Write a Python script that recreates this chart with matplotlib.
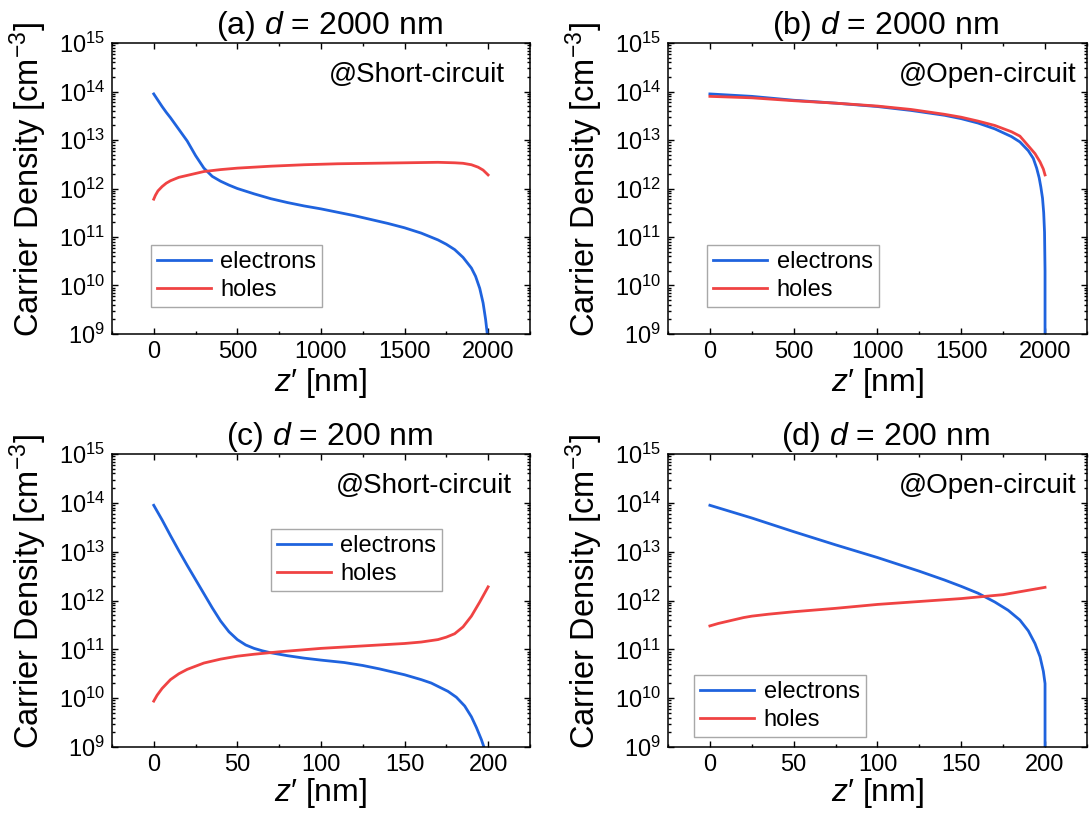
import matplotlib.pyplot as plt
from matplotlib.ticker import LogLocator, MultipleLocator, NullFormatter
import numpy as np

plt.rcParams['font.family'] = ['Liberation Sans', 'DejaVu Sans']
plt.rcParams['mathtext.fontset'] = 'custom'
plt.rcParams['mathtext.rm'] = 'Liberation Sans'
plt.rcParams['mathtext.it'] = 'Liberation Sans:italic'
plt.rcParams['mathtext.bf'] = 'Liberation Sans:bold'

# densities are stored as log10(n / cm^-3)

# (a) d = 2000 nm, short-circuit
z_a_e = [0, 25, 50, 75, 100, 125, 150, 200, 250, 300, 350, 400, 450, 500, 600, 700,
         800, 900, 1000, 1100, 1200, 1300, 1400, 1500, 1600, 1700, 1750, 1800, 1850,
         1900, 1925, 1950, 1970, 1985, 1995, 2000]
ne_a = [13.95, 13.82, 13.69, 13.57, 13.46, 13.34, 13.22, 12.98, 12.68, 12.42, 12.25,
        12.15, 12.07, 12.00, 11.89, 11.79, 11.71, 11.64, 11.58, 11.51, 11.44, 11.36,
        11.28, 11.19, 11.08, 10.94, 10.85, 10.74, 10.58, 10.36, 10.19, 9.94, 9.64,
        9.30, 9.00, 8.00]
z_a_h = [0, 10, 25, 50, 75, 100, 150, 200, 300, 400, 500, 700, 900, 1100, 1300, 1500,
         1700, 1800, 1850, 1900, 1940, 1970, 2000]
nh_a = [11.78, 11.86, 11.95, 12.04, 12.11, 12.16, 12.23, 12.27, 12.35, 12.39, 12.42,
        12.46, 12.49, 12.51, 12.52, 12.53, 12.54, 12.53, 12.52, 12.49, 12.44, 12.38,
        12.28]

# (b) d = 2000 nm, open-circuit
z_b_e = [0, 250, 500, 750, 1000, 1200, 1400, 1500, 1600, 1700, 1800, 1850, 1900,
         1930, 1950, 1965, 1975, 1985, 1992, 1997, 2000, 2000]
ne_b = [13.95, 13.90, 13.82, 13.76, 13.69, 13.61, 13.51, 13.44, 13.35, 13.23, 13.07,
        12.96, 12.78, 12.62, 12.42, 12.22, 12.03, 11.80, 11.50, 11.10, 10.30, 8.00]
z_b_h = [0, 250, 500, 750, 1000, 1200, 1400, 1500, 1600, 1700, 1800, 1850, 1900,
         1940, 1970, 1990, 2000]
nh_b = [13.90, 13.87, 13.81, 13.76, 13.70, 13.63, 13.53, 13.47, 13.39, 13.30, 13.17,
        13.08, 12.88, 12.72, 12.55, 12.40, 12.28]

# (c) d = 200 nm, short-circuit
z_c_e = [0, 5, 10, 15, 20, 25, 30, 35, 40, 45, 50, 55, 60, 65, 70, 80, 90, 100, 114,
         125, 135, 150, 160, 166, 176, 181, 186, 190, 193, 196, 198, 200]
ne_c = [13.95, 13.65, 13.33, 13.02, 12.72, 12.43, 12.14, 11.85, 11.58, 11.36, 11.20,
        11.09, 11.02, 10.97, 10.93, 10.87, 10.82, 10.78, 10.73, 10.67, 10.60, 10.48,
        10.38, 10.31, 10.14, 10.02, 9.84, 9.62, 9.40, 9.15, 8.95, 8.60]
z_c_h = [0, 2, 5, 10, 15, 20, 30, 40, 50, 60, 75, 100, 125, 150, 160, 170, 175, 180,
         185, 190, 195, 200]
nh_c = [9.94, 10.06, 10.20, 10.38, 10.50, 10.59, 10.72, 10.80, 10.86, 10.90, 10.95,
        11.02, 11.07, 11.12, 11.15, 11.20, 11.25, 11.32, 11.46, 11.68, 11.97, 12.28]

# (d) d = 200 nm, open-circuit
z_d_e = [0, 25, 50, 75, 100, 125, 140, 150, 160, 170, 178, 185, 190, 194, 197, 199,
         200, 200]
ne_d = [13.95, 13.69, 13.41, 13.14, 12.88, 12.60, 12.42, 12.29, 12.15, 11.97, 11.80,
        11.60, 11.38, 11.12, 10.85, 10.55, 10.30, 8.00]
z_d_h = [0, 5, 10, 15, 20, 25, 35, 50, 75, 100, 125, 150, 175, 200]
nh_d = [11.48, 11.53, 11.57, 11.61, 11.65, 11.68, 11.72, 11.77, 11.84, 11.92, 11.98,
        12.04, 12.12, 12.27]

titles = ['(a) $d$ = 2000 nm', '(b) $d$ = 2000 nm', '(c) $d$ = 200 nm', '(d) $d$ = 200 nm']
notes = ['@Short-circuit', '@Open-circuit', '@Short-circuit', '@Open-circuit']

blue = '#1f63de'
red = '#f04343'

fig = plt.figure(figsize=(10.89, 8.21), dpi=100)
rects = [[0.1028, 0.5932, 0.3838, 0.3544],
         [0.6134, 0.5932, 0.3847, 0.3544],
         [0.1028, 0.0901, 0.3838, 0.3569],
         [0.6134, 0.0901, 0.3847, 0.3569]]
panels = [(z_a_e, ne_a, z_a_h, nh_a, 2000),
          (z_b_e, ne_b, z_b_h, nh_b, 2000),
          (z_c_e, ne_c, z_c_h, nh_c, 200),
          (z_d_e, ne_d, z_d_h, nh_d, 200)]
leg_pos = [(0.093, 0.093), (0.093, 0.093), (0.38, 0.532), (0.062, 0.034)]
note_x = [0.94, 0.976, 0.957, 0.976]

for i, (ze, ne, zh, nh, d) in enumerate(panels):
    ax = fig.add_axes(rects[i])
    ax.plot(ze, 10.0 ** np.array(ne), color=blue, lw=2.0, label='electrons')
    ax.plot(zh, 10.0 ** np.array(nh), color=red, lw=2.0, label='holes')
    ax.set_yscale('log')
    ax.set_ylim(1e9, 1e15)
    ax.set_xlim(-0.125 * d, 1.125 * d)
    ax.xaxis.set_major_locator(MultipleLocator(d / 4))
    ax.xaxis.set_minor_locator(MultipleLocator(d / 8))
    ax.yaxis.set_major_locator(LogLocator(base=10, numticks=20))
    ax.yaxis.set_minor_locator(LogLocator(base=10, subs=np.arange(2, 10), numticks=100))
    ax.yaxis.set_minor_formatter(NullFormatter())
    ax.tick_params(which='both', direction='in', top=True, right=True,
                   labelsize=17, width=1.0)
    ax.tick_params(which='major', length=4, pad=5)
    ax.tick_params(which='minor', length=2.2)
    for sp in ax.spines.values():
        sp.set_linewidth(1.1)

    ax.set_title(titles[i], fontsize=23, x=0.52, pad=6)
    ax.set_xlabel("$z$\u2032 [nm]", fontsize=23, labelpad=2 if i < 2 else 0)
    ax.set_ylabel('Carrier Density [cm$^{-3}$]', fontsize=23.5)
    ax.yaxis.set_label_coords(-0.15, 0.53)
    ax.text(note_x[i], 0.89, notes[i], transform=ax.transAxes, fontsize=20,
            ha='right', va='center')

    leg = ax.legend(loc='lower left', bbox_to_anchor=leg_pos[i], borderaxespad=0,
                    fontsize=17, frameon=True, fancybox=False, framealpha=1,
                    edgecolor='#a8a8a8', handlelength=2.3, handletextpad=0.4,
                    borderpad=0.25, labelspacing=0.25)
    leg.get_frame().set_linewidth(1.0)

fig.savefig('out.png', dpi=100)
